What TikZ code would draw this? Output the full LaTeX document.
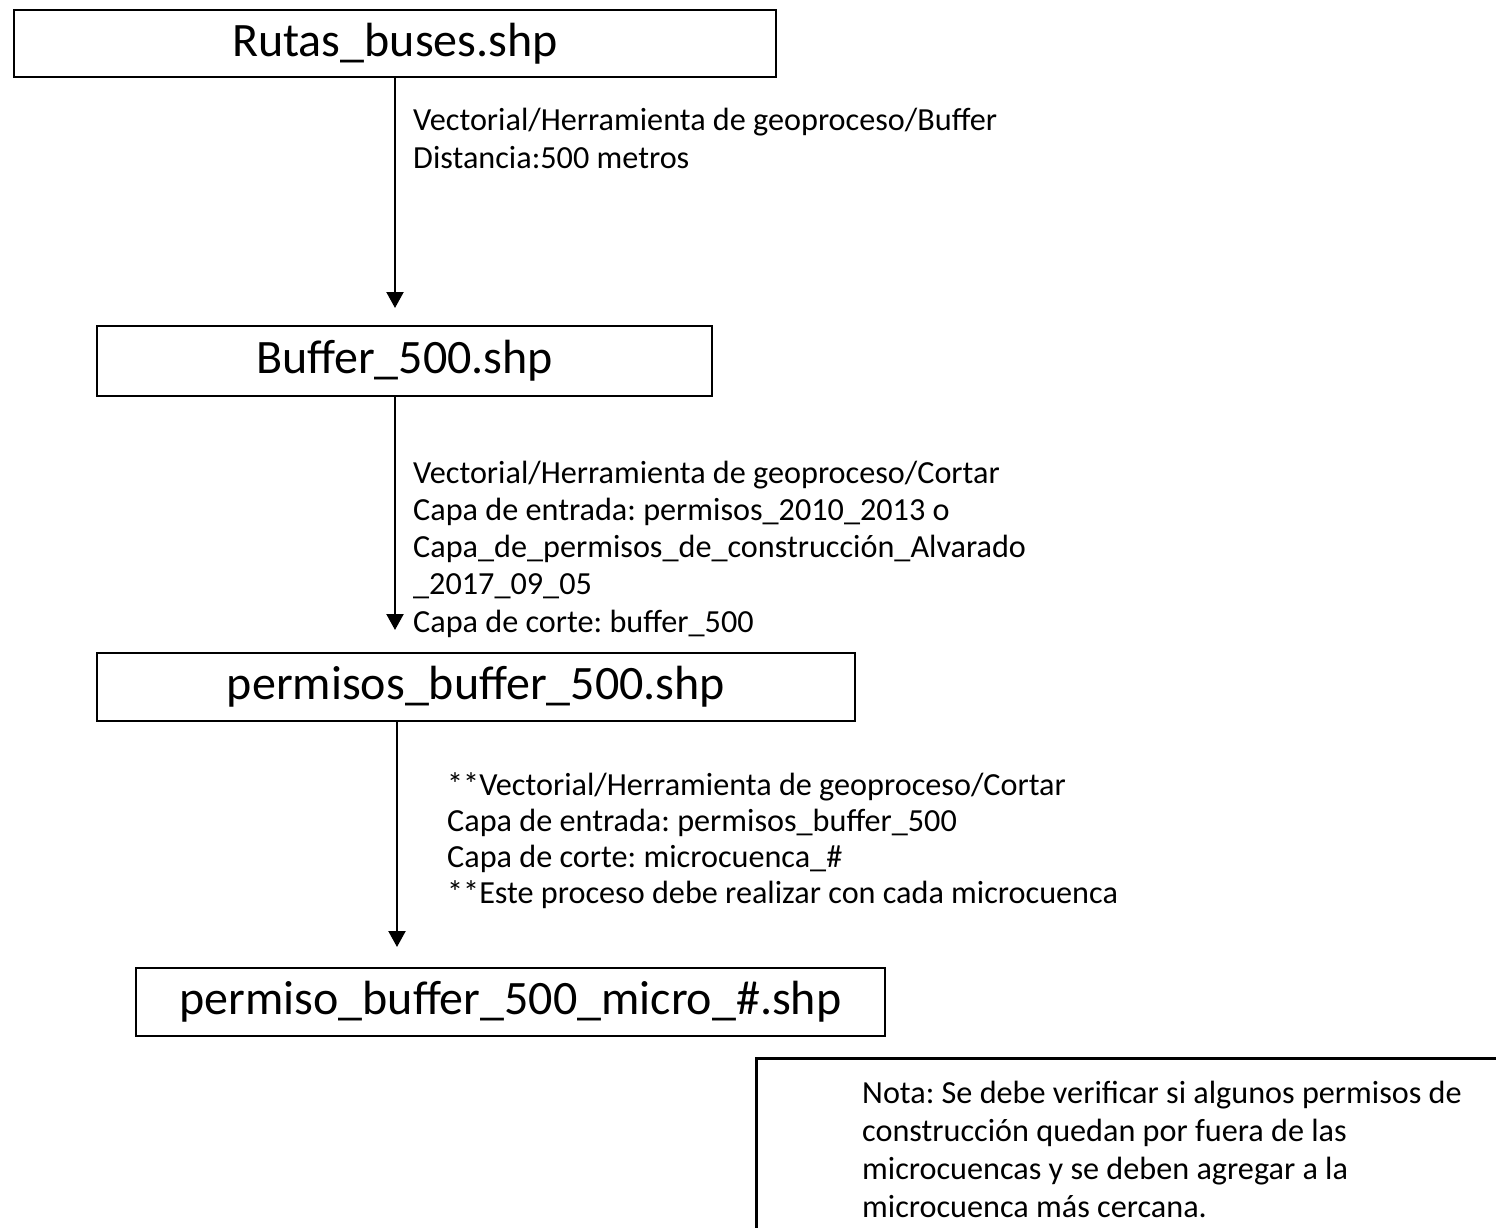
\documentclass[tikz,border=0pt]{standalone}
\usepackage{fontspec}
\setmainfont{Carlito}
\usetikzlibrary{arrows.meta}
\frenchspacing
\begin{document}
\begin{tikzpicture}[x=1pt,y=-1pt,
  box/.style={draw=black,line width=2.5pt,inner sep=0pt,font=\fontsize{48}{58}\selectfont},
  lbl/.style={anchor=base west,align=left,inner sep=0pt,font=\fontsize{32.2}{37.2}\selectfont},
  conn/.style={line width=2.2pt,-{Triangle[width=17pt,length=16pt]}}]
\useasboundingbox (0,0) rectangle (1496,1228);
\clip (0,0) rectangle (1496,1228);
\node[box,minimum width=762pt,minimum height=67pt] (b1) at (395,43.5) {Rutas\_buses.shp};
\node[box,minimum width=615pt,minimum height=70pt] (b2) at (404.5,361) {Buffer\_500.shp};
\node[box,minimum width=758pt,minimum height=68pt] (b3) at (476,687) {permisos\_buffer\_500.shp};
\node[box,minimum width=749pt,minimum height=68pt] (b4) at (510.5,1002) {permiso\_buffer\_500\_micro\_\#.shp};
\coordinate (a1s) at (395,77);
\coordinate (a1e) at (395,308);
\coordinate (a2s) at (395,396);
\coordinate (a2e) at (395,630);
\coordinate (a3s) at (397,721);
\coordinate (a3e) at (397,947);
\draw[conn] (a1s) -- (a1e);
\draw[conn] (a2s) -- (a2e);
\draw[conn] (a3s) -- (a3e);
\node[lbl] (t1) at (413,168) {Vectorial/Herramienta de geoproceso/Buffer\\Distancia:500 metros};
\node[lbl] (t2) at (413,632) {Vectorial/Herramienta de geoproceso/Cortar\\Capa de entrada: permisos\_2010\_2013 o\\Capa\_de\_permisos\_de\_construcción\_Alvarado\\\_2017\_09\_05\\Capa de corte: buffer\_500};
\node[lbl,font=\fontsize{32.2}{36}\selectfont] (t3) at (447,903) {**Vectorial/Herramienta de geoproceso/Cortar\\Capa de entrada: permisos\_buffer\_500\\Capa de corte: microcuenca\_\#\\**Este proceso debe realizar con cada microcuenca};
\node[draw=black,line width=2.5pt,anchor=north west,minimum width=780pt,minimum height=220pt,inner sep=0pt] (nb) at (755,1057) {};
\node[lbl,font=\fontsize{32.2}{37.8}\selectfont] (nt) at (862,1217) {Nota: Se debe verificar si algunos permisos de\\construcción quedan por fuera de las\\microcuencas y se deben agregar a la\\microcuenca más cercana.};
\end{tikzpicture}
\end{document}
